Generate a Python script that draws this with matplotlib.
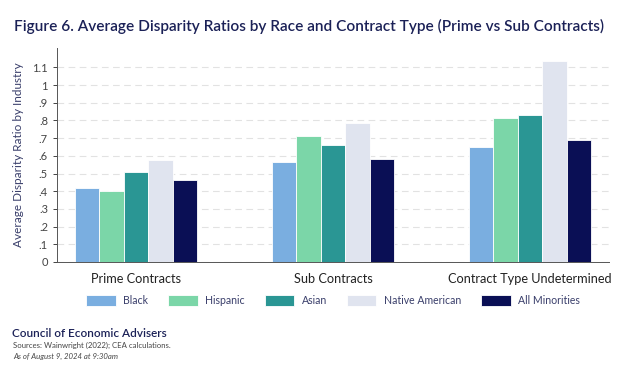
import matplotlib.pyplot as plt
import numpy as np

# Données
categories = ['Prime Contracts', 'Sub Contracts', 'Contract Type Undetermined']
series = ['Black', 'Hispanic', 'Asian', 'Native American', 'All Minorities']
black = [0.42, 0.565, 0.65]
hispanic = [0.40, 0.715, 0.815]
asian = [0.51, 0.66, 0.832]
native = [0.575, 0.785, 1.138]
all_min = [0.465, 0.583, 0.69]
yticks = [0, .1, .2, .3, .4, .5, .6, .7, .8, .9, 1, 1.1]
ytick_labels = ['0', '.1', '.2', '.3', '.4', '.5', '.6', '.7', '.8', '.9', '1', '1.1']

couleurs = ['#7AAEE0', '#7BD6A8', '#2A9694', '#E0E4EF', '#0A0F55']
navy = '#1B2157'

plt.rcParams['font.family'] = ['Lato', 'DejaVu Sans']

fig = plt.figure(figsize=(6.23, 3.74), dpi=100)
ax = fig.add_axes([0.0915, 0.2995, 0.886, 0.5722])

x = np.arange(len(categories))
largeur = 0.124
valeurs = [black, hispanic, asian, native, all_min]
for i, (nom, vals) in enumerate(zip(series, valeurs)):
    ax.bar(x + (i - 2) * largeur, vals, width=largeur, color=couleurs[i],
           edgecolor='white', linewidth=0.6, label=nom, zorder=3)

ax.set_xlim(-0.40, 2.40)
ax.set_ylim(0, 1.21)
ax.set_yticks(yticks)
ax.set_yticklabels(ytick_labels)
ax.set_xticks(x)
ax.set_xticklabels(categories)
ax.tick_params(axis='y', labelsize=8, colors='#444444', length=3, width=0.7)
ax.tick_params(axis='x', labelsize=9.2, colors='#222222', length=0, pad=8)
ax.yaxis.grid(True, linestyle=(0, (6, 4)), color='#E2E2E2', linewidth=0.8, zorder=0)

for s in ['top', 'right']:
    ax.spines[s].set_visible(False)
ax.spines['left'].set_color('#555555')
ax.spines['bottom'].set_color('#555555')
ax.spines['left'].set_linewidth(0.7)
ax.spines['bottom'].set_linewidth(0.7)

ax.set_ylabel('Average Disparity Ratio by Industry', fontsize=8.5, color='#3A3F6B', labelpad=6)

# Titre
fig.text(0.022, 0.93, 'Figure 6. Average Disparity Ratios by Race and Contract Type (Prime vs Sub Contracts)',
         fontsize=11.1, color=navy, fontweight='semibold', va='center')

# Légende
ax.legend(loc='upper center', bbox_to_anchor=(0.50, -0.11), ncol=5, frameon=False,
          fontsize=7.6, handlelength=2.8, handleheight=1.1, columnspacing=1.9,
          handletextpad=0.7, labelcolor='#3A3F6B')

# Notes
fig.text(0.019, 0.108, 'Council of Economic Advisers', fontsize=8.5, color=navy,
         fontweight='semibold', va='center')
fig.text(0.021, 0.076, 'Sources: Wainwright (2022); CEA calculations.', fontsize=5.6,
         color='#444444', va='center')
fig.text(0.021, 0.047, 'As of August 9, 2024 at 9:30am', fontsize=5.6, color='#444444',
         style='italic', va='center')

plt.savefig('out.png', dpi=100)
plt.close()
